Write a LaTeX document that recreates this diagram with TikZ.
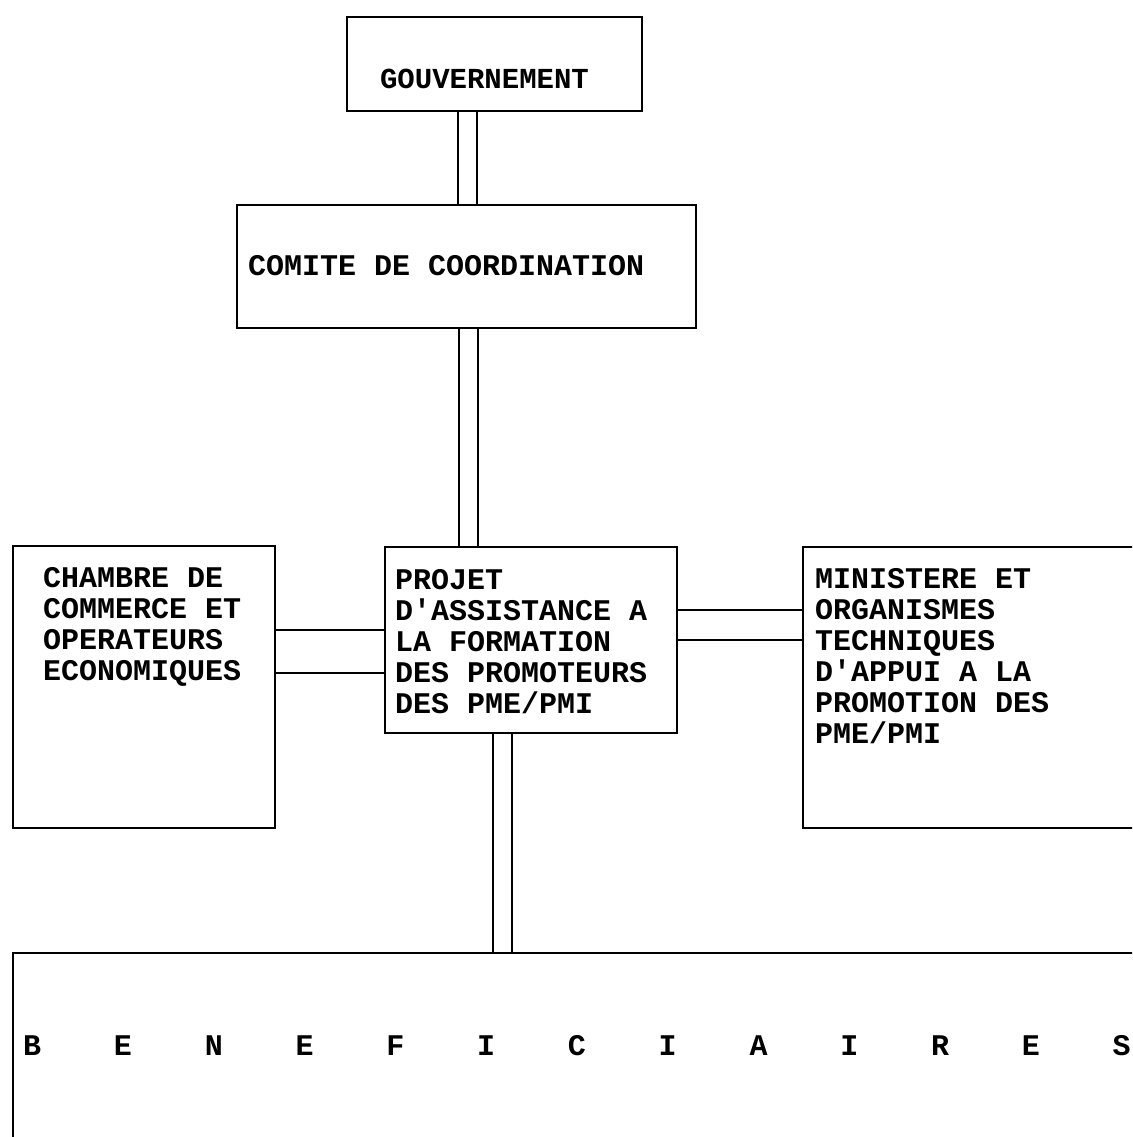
\documentclass[tikz,border=0pt]{standalone}
\usepackage{fontspec}
\setmonofont{Liberation Mono}
\newcommand\lb[1]{\makebox[0pt]{#1}}
\newcommand\gap{\hspace{90.8pt}}
\tikzset{
  box/.style={draw, line width=2pt, inner sep=0pt, fill=none},
  txt/.style={inner sep=0pt, align=left, font=\ttfamily\bfseries\fontsize{30}{31}\selectfont},
  pipe/.style={draw, line width=2pt, double=white, double distance=#1},
  pipe/.default=17pt
}
\begin{document}
\begin{tikzpicture}[x=1pt,y=-1pt]
\useasboundingbox (0,0) rectangle (1132,1137);
\clip (0,0) rectangle (1132,1137);
\fill[white] (0,0) rectangle (1132,1137);
% boxes
\node[box, minimum width=295pt, minimum height=94pt] (gov) at (494.5,64) {};
\node[box, minimum width=459pt, minimum height=123pt] (com) at (466.5,266.5) {};
\node[box, minimum width=292pt, minimum height=186pt] (proj) at (531,640) {};
\node[box, minimum width=262pt, minimum height=282pt] (cham) at (144,687) {};
\node[box, minimum width=360pt, minimum height=281pt] (mini) at (983,687.5) {};
\node[box, minimum width=1150pt, minimum height=260pt] (ben) at (588,1083) {};
% texts
\node[txt, font=\ttfamily\bfseries\fontsize{29}{31}\selectfont] (tgov) at (484.5,79) {GOUVERNEMENT};
\node[txt, anchor=west] (tcom) at (248,266) {COMITE DE COORDINATION};
\node[txt, anchor=north west] (tproj) at (395,569.5) {PROJET\\D'ASSISTANCE A\\LA FORMATION\\DES PROMOTEURS\\DES PME/PMI};
\node[txt, anchor=north west] (tcham) at (43,567.5) {CHAMBRE DE\\COMMERCE ET\\OPERATEURS\\ECONOMIQUES};
\node[txt, anchor=north west] (tmini) at (815,568) {MINISTERE ET\\ORGANISMES\\TECHNIQUES\\D'APPUI A LA\\PROMOTION DES\\PME/PMI};
\node[txt, anchor=west] (tben) at (32,1046) {\lb{B}\gap\lb{E}\gap\lb{N}\gap\lb{E}\gap\lb{F}\gap\lb{I}\gap\lb{C}\gap\lb{I}\gap\lb{A}\gap\lb{I}\gap\lb{R}\gap\lb{E}\gap\lb{S}};
% pipe axes
\coordinate (a1) at (467.5,0);
\coordinate (a2) at (468.5,0);
\coordinate (a3) at (502.5,0);
\coordinate (aL) at (0,651.5);
\coordinate (aR) at (0,625);
% connectors
\draw[pipe] (gov.south -| a1) -- (com.north -| a1);
\draw[pipe] (com.south -| a2) -- (proj.north -| a2);
\draw[pipe] (proj.south -| a3) -- (ben.north -| a3);
\draw[pipe=41pt] (cham.east |- aL) -- (proj.west |- aL);
\draw[pipe=28pt] (proj.east |- aR) -- (mini.west |- aR);
\end{tikzpicture}
\end{document}
